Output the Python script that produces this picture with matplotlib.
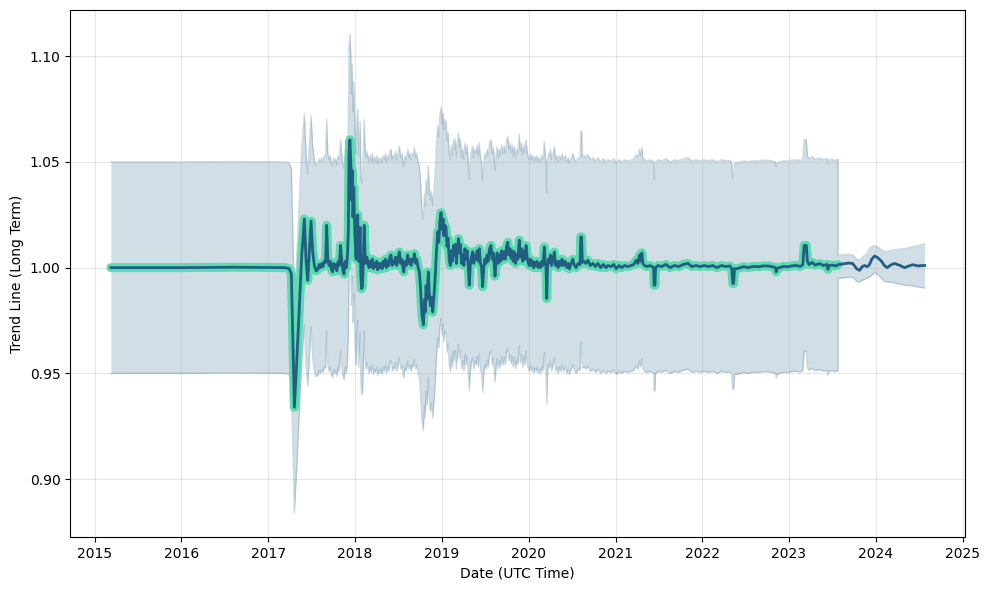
import numpy as np
import pandas as pd
import matplotlib
matplotlib.use("Agg")
import matplotlib.pyplot as plt

# history: decimal year -> long term trend value
hist_years = [
    2015.187, 2016.000, 2016.600, 2017.195, 2017.240, 2017.265, 2017.300, 2017.330, 2017.355, 2017.385,
    2017.415, 2017.435, 2017.454, 2017.475, 2017.492, 2017.510, 2017.530, 2017.550, 2017.569, 2017.585,
    2017.600, 2017.615, 2017.630, 2017.645, 2017.660, 2017.672, 2017.685, 2017.700, 2017.712, 2017.725,
    2017.740, 2017.752, 2017.765, 2017.778, 2017.790, 2017.805, 2017.818, 2017.832, 2017.845, 2017.858,
    2017.872, 2017.886, 2017.900, 2017.912, 2017.922, 2017.930, 2017.940, 2017.950, 2017.958, 2017.966,
    2017.975, 2017.985, 2017.995, 2018.005, 2018.012, 2018.022, 2018.030, 2018.040, 2018.050, 2018.058,
    2018.066, 2018.075, 2018.085, 2018.095, 2018.105, 2018.115, 2018.125, 2018.135, 2018.146, 2018.160,
    2018.172, 2018.185, 2018.198, 2018.210, 2018.222, 2018.235, 2018.248, 2018.260, 2018.272, 2018.285,
    2018.300, 2018.312, 2018.325, 2018.338, 2018.350, 2018.362, 2018.375, 2018.388, 2018.400, 2018.414,
    2018.428, 2018.440, 2018.452, 2018.466, 2018.480, 2018.495, 2018.510, 2018.525, 2018.540, 2018.552,
    2018.561, 2018.575, 2018.590, 2018.607, 2018.620, 2018.632, 2018.645, 2018.658, 2018.670, 2018.683,
    2018.697, 2018.710, 2018.722, 2018.733, 2018.741, 2018.755, 2018.770, 2018.787, 2018.800, 2018.810,
    2018.818, 2018.830, 2018.844, 2018.855, 2018.867, 2018.880, 2018.895, 2018.910, 2018.925, 2018.938,
    2018.953, 2018.965, 2018.978, 2018.991, 2019.005, 2019.015, 2019.022, 2019.035, 2019.048, 2019.060,
    2019.072, 2019.085, 2019.098, 2019.110, 2019.122, 2019.134, 2019.144, 2019.156, 2019.168, 2019.180,
    2019.192, 2019.202, 2019.214, 2019.228, 2019.241, 2019.254, 2019.266, 2019.279, 2019.292, 2019.305,
    2019.317, 2019.328, 2019.340, 2019.356, 2019.368, 2019.380, 2019.394, 2019.407, 2019.420, 2019.432,
    2019.445, 2019.458, 2019.471, 2019.484, 2019.496, 2019.509, 2019.522, 2019.535, 2019.550, 2019.567,
    2019.580, 2019.592, 2019.605, 2019.613, 2019.625, 2019.638, 2019.650, 2019.663, 2019.676, 2019.690,
    2019.705, 2019.720, 2019.733, 2019.746, 2019.760, 2019.772, 2019.785, 2019.798, 2019.810, 2019.822,
    2019.836, 2019.850, 2019.863, 2019.876, 2019.893, 2019.905, 2019.918, 2019.933, 2019.946, 2019.958,
    2019.971, 2019.984, 2019.997, 2020.009, 2020.022, 2020.035, 2020.048, 2020.060, 2020.072, 2020.085,
    2020.098, 2020.110, 2020.124, 2020.138, 2020.152, 2020.165, 2020.182, 2020.192, 2020.200, 2020.209,
    2020.218, 2020.228, 2020.239, 2020.252, 2020.265, 2020.280, 2020.297, 2020.310, 2020.325, 2020.340,
    2020.355, 2020.370, 2020.385, 2020.400, 2020.420, 2020.440, 2020.455, 2020.470, 2020.490, 2020.509,
    2020.528, 2020.547, 2020.570, 2020.592, 2020.600, 2020.610, 2020.618, 2020.640, 2020.660, 2020.682,
    2020.710, 2020.740, 2020.770, 2020.797, 2020.830, 2020.860, 2020.890, 2020.912, 2020.950, 2020.980,
    2021.008, 2021.040, 2021.070, 2021.104, 2021.140, 2021.180, 2021.210, 2021.238, 2021.258, 2021.276,
    2021.290, 2021.304, 2021.315, 2021.334, 2021.360, 2021.400, 2021.440, 2021.445, 2021.455, 2021.462,
    2021.490, 2021.530, 2021.580, 2021.630, 2021.680, 2021.730, 2021.780, 2021.835, 2021.880, 2021.930,
    2021.975, 2022.020, 2022.070, 2022.120, 2022.170, 2022.220, 2022.270, 2022.320, 2022.340, 2022.352,
    2022.362, 2022.372, 2022.400, 2022.440, 2022.480, 2022.520, 2022.559, 2022.600, 2022.650, 2022.700,
    2022.757, 2022.800, 2022.845, 2022.853, 2022.862, 2022.890, 2022.940, 2022.985, 2023.025, 2023.080,
    2023.130, 2023.160, 2023.175, 2023.200, 2023.212, 2023.230, 2023.270, 2023.300, 2023.352, 2023.400,
    2023.440, 2023.450, 2023.460, 2023.500, 2023.540, 2023.565,
]
hist_trend = [
    1.0000, 1.0000, 1.0002, 1.0000, 0.9995, 0.9970, 0.9340, 0.9580, 0.9800, 1.0060,
    1.0230, 1.0030, 0.9940, 1.0100, 1.0220, 1.0080, 1.0010, 0.9985, 0.9990, 1.0015,
    1.0000, 1.0020, 1.0005, 1.0030, 1.0025, 1.0200, 1.0040, 1.0010, 1.0030, 0.9995,
    0.9980, 1.0020, 1.0000, 1.0015, 0.9985, 1.0030, 1.0010, 1.0105, 1.0040, 0.9990,
    0.9970, 1.0030, 1.0000, 1.0060, 1.0170, 1.0540, 1.0605, 1.0510, 1.0320, 1.0460,
    1.0240, 1.0380, 1.0190, 1.0080, 1.0040, 1.0210, 1.0250, 1.0030, 1.0120, 1.0190,
    0.9960, 0.9900, 0.9910, 1.0040, 1.0200, 1.0060, 1.0020, 1.0050, 1.0030, 1.0000,
    1.0030, 1.0005, 1.0040, 0.9995, 1.0020, 1.0005, 1.0030, 0.9990, 1.0020, 1.0000,
    1.0020, 0.9995, 1.0030, 1.0010, 1.0040, 1.0000, 1.0030, 1.0010, 1.0050, 1.0060,
    1.0010, 1.0030, 1.0020, 1.0050, 1.0010, 1.0040, 1.0074, 1.0020, 1.0040, 1.0000,
    0.9980, 1.0030, 1.0010, 1.0060, 1.0020, 1.0040, 1.0010, 1.0040, 1.0030, 1.0066,
    1.0020, 1.0040, 1.0010, 0.9990, 0.9980, 0.9900, 0.9780, 0.9730, 0.9850, 0.9790,
    0.9915, 0.9850, 0.9980, 0.9880, 0.9820, 0.9860, 0.9790, 0.9870, 0.9965, 1.0080,
    1.0170, 1.0120, 1.0220, 1.0260, 1.0180, 1.0230, 1.0150, 1.0200, 1.0190, 1.0100,
    1.0140, 1.0040, 1.0010, 1.0080, 1.0030, 1.0105, 1.0060, 1.0110, 1.0020, 1.0090,
    1.0137, 1.0070, 1.0110, 1.0020, 1.0060, 1.0010, 1.0090, 1.0040, 1.0080, 1.0000,
    0.9917, 1.0010, 1.0050, 1.0075, 1.0020, 1.0060, 1.0040, 1.0080, 1.0030, 1.0090,
    1.0020, 1.0000, 0.9910, 1.0000, 1.0040, 1.0020, 1.0060, 1.0030, 1.0090, 1.0105,
    1.0040, 1.0070, 1.0010, 0.9960, 1.0030, 1.0070, 1.0020, 1.0060, 1.0030, 1.0080,
    1.0040, 1.0075, 1.0040, 1.0100, 1.0120, 1.0060, 1.0090, 1.0045, 1.0080, 1.0030,
    1.0075, 1.0020, 1.0060, 1.0040, 1.0130, 1.0050, 1.0090, 1.0030, 1.0080, 1.0040,
    1.0105, 1.0050, 1.0020, 1.0010, 1.0040, 1.0010, 1.0030, 1.0000, 1.0025, 1.0010,
    1.0030, 1.0000, 1.0020, 1.0000, 1.0030, 1.0010, 1.0098, 1.0020, 1.0010, 0.9854,
    1.0000, 1.0040, 1.0025, 1.0060, 1.0010, 1.0040, 1.0074, 1.0010, 1.0030, 1.0000,
    1.0030, 1.0010, 1.0040, 1.0010, 1.0030, 1.0000, 1.0020, 0.9995, 1.0020, 1.0040,
    1.0010, 1.0000, 1.0020, 1.0015, 1.0145, 1.0145, 1.0025, 1.0030, 1.0020, 1.0035,
    1.0010, 1.0020, 1.0005, 1.0020, 1.0000, 1.0015, 1.0000, 1.0010, 1.0005, 1.0015,
    0.9995, 1.0010, 1.0000, 1.0010, 1.0005, 1.0010, 1.0015, 1.0035, 1.0020, 1.0060,
    1.0030, 1.0070, 1.0020, 1.0010, 1.0005, 1.0010, 1.0000, 0.9917, 0.9917, 1.0000,
    1.0010, 1.0005, 1.0015, 1.0000, 1.0010, 1.0005, 1.0015, 1.0020, 1.0005, 1.0010,
    1.0005, 1.0010, 1.0005, 1.0010, 1.0000, 1.0010, 1.0005, 1.0008, 0.9995, 0.9925,
    0.9925, 0.9995, 0.9995, 1.0000, 1.0005, 1.0000, 1.0003, 1.0006, 1.0004, 1.0008,
    1.0008, 1.0005, 1.0000, 0.9980, 0.9995, 1.0000, 1.0006, 1.0004, 1.0008, 1.0010,
    1.0006, 1.0014, 1.0105, 1.0105, 1.0030, 1.0015, 1.0025, 1.0012, 1.0019, 1.0010,
    1.0015, 0.9992, 1.0010, 1.0012, 1.0008, 1.0014,
]
hist_band = 0.05  # half width of the interval over the history

# forecast: trend plus its (narrow) interval
fcst_years = [
    2023.565, 2023.600, 2023.640, 2023.690, 2023.737, 2023.780, 2023.813, 2023.845, 2023.871, 2023.900,
    2023.925, 2023.955, 2023.986, 2024.020, 2024.063, 2024.100, 2024.132, 2024.170, 2024.216, 2024.270,
    2024.332, 2024.380, 2024.428, 2024.486, 2024.530, 2024.562,
]
fcst_trend = [
    1.0014, 1.0016, 1.0019, 1.0022, 1.0019, 0.9995, 0.9987, 1.0005, 1.0010, 1.0005,
    1.0012, 1.0040, 1.0055, 1.0048, 1.0032, 1.0010, 1.0000, 1.0012, 1.0020, 1.0012,
    1.0000, 1.0008, 1.0014, 1.0008, 1.0010, 1.0010,
]
fcst_upper = [
    1.0058, 1.0060, 1.0062, 1.0063, 1.0060, 1.0040, 1.0034, 1.0050, 1.0058, 1.0070,
    1.0088, 1.0100, 1.0105, 1.0098, 1.0085, 1.0075, 1.0078, 1.0082, 1.0085, 1.0088,
    1.0090, 1.0095, 1.0100, 1.0104, 1.0110, 1.0113,
]
fcst_lower = [
    0.9948, 0.9950, 0.9952, 0.9955, 0.9953, 0.9935, 0.9932, 0.9940, 0.9945, 0.9950,
    0.9955, 0.9965, 0.9975, 0.9968, 0.9950, 0.9935, 0.9932, 0.9932, 0.9928, 0.9922,
    0.9918, 0.9916, 0.9913, 0.9908, 0.9906, 0.9904,
]

trend_color = '#215e82'
hist_color = '#5cdbaf'


def to_dates(years):
    # decimal years -> timestamps
    out = []
    for y in years:
        yr = int(y)
        start = pd.Timestamp(yr, 1, 1)
        end = pd.Timestamp(yr + 1, 1, 1)
        out.append(start + (end - start) * (y - yr))
    return out


hist_dates = to_dates(hist_years)
fcst_dates = to_dates(fcst_years)

hist_trend = np.array(hist_trend)
hist_upper = hist_trend + hist_band
hist_lower = hist_trend - hist_band

all_dates = hist_dates + fcst_dates
all_trend = np.concatenate([hist_trend, fcst_trend])
all_upper = np.concatenate([hist_upper, fcst_upper])
all_lower = np.concatenate([hist_lower, fcst_lower])

fig, ax = plt.subplots(figsize=(9.89, 5.9), dpi=100)
ax.fill_between(all_dates, all_lower, all_upper, color=trend_color, alpha=0.2, linewidth=0)
ax.plot(all_dates, all_upper, color=trend_color, alpha=0.22, linewidth=1)
ax.plot(all_dates, all_lower, color=trend_color, alpha=0.22, linewidth=1)
ax.plot(hist_dates, hist_trend, color=hist_color, linewidth=6.5,
        solid_capstyle='round', solid_joinstyle='round')
ax.plot(all_dates, all_trend, color=trend_color, linewidth=2)

ax.grid(True, alpha=0.3)
ax.set_xlabel('Date (UTC Time)')
ax.set_ylabel('Trend Line (Long Term)')
fig.subplots_adjust(left=0.071, right=0.976, top=0.983, bottom=0.09)
fig.savefig('out.png', dpi=100)
